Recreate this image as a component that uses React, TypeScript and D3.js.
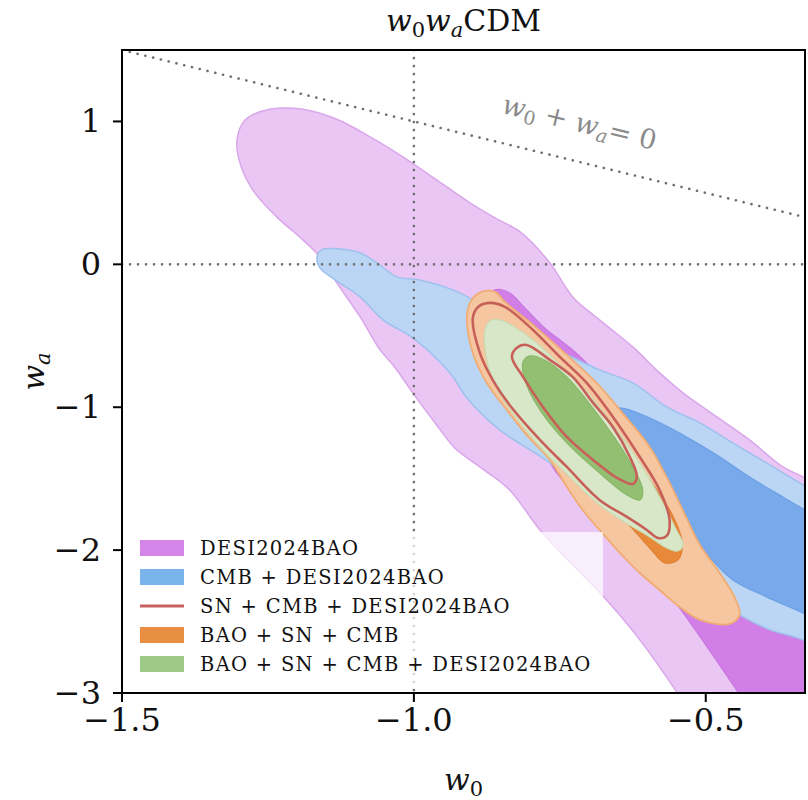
import React from 'react';
import * as d3 from 'd3';

type P = [number, number];

// ---- contour data (w0, wa) ----
const desiOuter: P[] = [
  [-1.303, 0.871], [-1.289, 1.010], [-1.247, 1.085], [-1.190, 1.085], [-1.132, 1.015],
  [-1.075, 0.892], [-1.019, 0.752], [-0.961, 0.591], [-0.904, 0.430], [-0.861, 0.325],
  [-0.818, 0.227], [-0.767, 0.010], [-0.728, -0.228], [-0.682, -0.389], [-0.625, -0.578],
  [-0.579, -0.760], [-0.539, -0.900], [-0.481, -1.068], [-0.425, -1.229], [-0.368, -1.418],
  [-0.330, -1.495], [-0.253, -1.684], [-0.219, -3.748], [-0.476, -3.468],
  [-0.550, -2.992], [-0.613, -2.628], [-0.678, -2.313], [-0.733, -2.083], [-0.784, -1.859],
  [-0.836, -1.579], [-0.887, -1.418], [-0.930, -1.285], [-0.961, -1.124], [-1.002, -0.900],
  [-1.033, -0.718], [-1.058, -0.599], [-1.092, -0.368], [-1.132, -0.130], [-1.161, 0.052],
  [-1.190, 0.171], [-1.235, 0.332], [-1.276, 0.521], [-1.298, 0.710],
];
const desiInner: P[] = [
  [-0.873, -0.249], [-0.861, -0.179], [-0.836, -0.200], [-0.810, -0.305], [-0.776, -0.445],
  [-0.724, -0.613], [-0.647, -0.914], [-0.510, -1.264], [-0.330, -1.614], [-0.236, -1.824],
  [-0.219, -3.748], [-0.400, -3.258], [-0.445, -2.992], [-0.500, -2.663], [-0.555, -2.348],
  [-0.610, -2.069], [-0.664, -1.824], [-0.707, -1.649], [-0.750, -1.488], [-0.784, -1.264],
  [-0.822, -0.949], [-0.853, -0.599], [-0.870, -0.389],
];
const cmbDesiOuter: P[] = [
  [-1.166, 0.052], [-1.158, 0.101], [-1.127, 0.108], [-1.092, 0.080], [-1.063, 0.010],
  [-1.029, -0.088], [-0.990, -0.109], [-0.933, -0.179], [-0.899, -0.249], [-0.853, -0.375],
  [-0.801, -0.515], [-0.755, -0.599], [-0.682, -0.739], [-0.625, -0.830], [-0.567, -0.998],
  [-0.510, -1.110], [-0.454, -1.250], [-0.396, -1.390], [-0.330, -1.551], [-0.236, -1.754],
  [-0.219, -2.908], [-0.334, -2.628], [-0.390, -2.558], [-0.442, -2.453], [-0.510, -2.265],
  [-0.596, -1.985], [-0.682, -1.684], [-0.767, -1.390], [-0.853, -1.159], [-0.909, -0.935],
  [-0.938, -0.760], [-1.002, -0.515], [-1.053, -0.389], [-1.092, -0.228], [-1.135, -0.109],
  [-1.161, -0.025],
];
const cmbDesiInner: P[] = [
  [-0.682, -1.089], [-0.652, -1.005], [-0.596, -1.075], [-0.539, -1.194], [-0.481, -1.334],
  [-0.425, -1.488], [-0.368, -1.628], [-0.330, -1.719], [-0.236, -1.929], [-0.236, -2.628],
  [-0.334, -2.439], [-0.396, -2.327], [-0.454, -2.208], [-0.510, -1.978], [-0.579, -1.719],
  [-0.630, -1.439],
];
const baoSnCmbOuter: P[] = [
  [-0.909, -0.354], [-0.901, -0.249], [-0.884, -0.193], [-0.861, -0.193], [-0.844, -0.263],
  [-0.796, -0.424], [-0.738, -0.634], [-0.687, -0.830], [-0.637, -1.068], [-0.596, -1.278],
  [-0.562, -1.530], [-0.533, -1.775], [-0.510, -1.964], [-0.476, -2.160], [-0.450, -2.334],
  [-0.442, -2.453], [-0.459, -2.516], [-0.510, -2.488], [-0.545, -2.397], [-0.579, -2.279],
  [-0.613, -2.160], [-0.647, -2.020], [-0.682, -1.859], [-0.711, -1.719], [-0.738, -1.558],
  [-0.767, -1.369], [-0.807, -1.194], [-0.841, -1.019], [-0.875, -0.830], [-0.899, -0.620],
];
const baoSnCmbInner: P[] = [
  [-0.853, -0.459], [-0.784, -0.669], [-0.682, -1.089], [-0.596, -1.509], [-0.553, -1.789],
  [-0.540, -1.964], [-0.548, -2.070], [-0.570, -2.090], [-0.596, -1.985], [-0.647, -1.754],
  [-0.733, -1.439], [-0.818, -1.019], [-0.861, -0.669],
];
const allOuter: P[] = [
  [-0.878, -0.459], [-0.870, -0.396], [-0.853, -0.389], [-0.796, -0.529], [-0.750, -0.704],
  [-0.704, -0.893], [-0.659, -1.124], [-0.613, -1.390], [-0.579, -1.628], [-0.553, -1.838],
  [-0.539, -1.964], [-0.548, -2.006], [-0.570, -1.978], [-0.596, -1.908], [-0.639, -1.803],
  [-0.682, -1.684], [-0.738, -1.467], [-0.784, -1.278], [-0.832, -1.033], [-0.858, -0.865],
  [-0.875, -0.669],
];
const allInner: P[] = [
  [-0.813, -0.683], [-0.801, -0.641], [-0.776, -0.669], [-0.738, -0.788], [-0.682, -1.068],
  [-0.635, -1.348], [-0.608, -1.579], [-0.613, -1.649], [-0.635, -1.614], [-0.682, -1.460],
  [-0.738, -1.250], [-0.784, -1.019], [-0.810, -0.809],
];
const snCmbDesiOuter: P[] = [
  [-0.899, -0.375], [-0.890, -0.298], [-0.870, -0.270], [-0.844, -0.298], [-0.796, -0.459],
  [-0.750, -0.648], [-0.704, -0.830], [-0.659, -1.068], [-0.613, -1.348], [-0.579, -1.579],
  [-0.562, -1.789], [-0.567, -1.901], [-0.582, -1.915], [-0.601, -1.859], [-0.635, -1.768],
  [-0.682, -1.649], [-0.738, -1.418], [-0.784, -1.229], [-0.836, -0.984], [-0.865, -0.809],
  [-0.887, -0.620],
];
const snCmbDesiInner: P[] = [
  [-0.832, -0.648], [-0.824, -0.585], [-0.807, -0.564], [-0.767, -0.669], [-0.728, -0.788],
  [-0.693, -0.970], [-0.659, -1.138], [-0.630, -1.348], [-0.618, -1.488], [-0.625, -1.537],
  [-0.652, -1.495], [-0.693, -1.369], [-0.738, -1.208], [-0.779, -0.998], [-0.813, -0.788],
];

const legendLabels = [
  'DESI2024BAO',
  'CMB + DESI2024BAO',
  'SN + CMB + DESI2024BAO',
  'BAO + SN + CMB',
  'BAO + SN + CMB + DESI2024BAO',
];
const legendColors = ['#d27ee8', '#72b0ec', '#c86060', '#e8893a', '#98c680'];
const legendKinds = ['fill', 'fill', 'line', 'fill', 'fill'];

const xTicks = [-1.5, -1.0, -0.5];
const xTickLabels = ['\u22121.5', '\u22121.0', '\u22120.5'];
const yTicks = [1, 0, -1, -2, -3];
const yTickLabels = ['1', '0', '\u22121', '\u22122', '\u22123'];

const xDomain: [number, number] = [-1.5, -0.33];
const yDomain: [number, number] = [-3, 1.5];

export default function App() {
  const L = 122, R = 805, T = 50, B = 693;
  const x = d3.scaleLinear().domain(xDomain).range([L, R]);
  const y = d3.scaleLinear().domain(yDomain).range([B, T]);
  const path = d3
    .line<P>()
    .x((d) => x(d[0]))
    .y((d) => y(d[1]))
    .curve(d3.curveCatmullRomClosed.alpha(0.5));

  const layers = [
    { d: desiOuter, fill: '#eac6f4', stroke: '#d9a6ea', sw: 1.5 },
    { d: desiInner, fill: '#d17fe7', stroke: '#c875e0', sw: 1.2 },
    { d: cmbDesiOuter, fill: '#bbd6f5', stroke: '#9ec0ec', sw: 1.5 },
    { d: cmbDesiInner, fill: '#77a9eb', stroke: '#6c9fe4', sw: 1.2 },
    { d: baoSnCmbOuter, fill: '#f6c6a0', stroke: '#f0ac72', sw: 1.8 },
    { d: baoSnCmbInner, fill: '#e8893a', stroke: '#e07f30', sw: 1.2 },
    { d: allOuter, fill: '#d8e7c8', stroke: '#c8dcb4', sw: 1.2 },
    { d: allInner, fill: '#93bf72', stroke: '#89b768', sw: 1.2 },
  ];
  const lines = [snCmbDesiOuter, snCmbDesiInner];

  const serif = 'DejaVu Serif';
  const dotted = { stroke: '#6e6e6e', strokeWidth: 2.6, strokeDasharray: '0.1,7.9', strokeLinecap: 'round' as const, fill: 'none' };
  const angle = (Math.atan2(y(0) - y(1), x(1 - 1.5) - x(-1.5)) * 180) / Math.PI;
  const legendRows = [548, 577, 606, 635, 664];

  return (
    <svg width={808} height={800} style={{ position: 'absolute', left: 0, top: 0, background: '#fff' }} fontFamily={serif}>
      <defs>
        <clipPath id="plotClip">
          <rect x={L} y={T} width={R - L} height={B - T} />
        </clipPath>
      </defs>
      <g clipPath="url(#plotClip)">
        {layers.map((l, i) => (
          <path key={i} d={path(l.d) || ''} fill={l.fill} stroke={l.stroke} strokeWidth={l.sw} />
        ))}
        {lines.map((l, i) => (
          <path key={'r' + i} d={path(l) || ''} fill="none" stroke="#c8605a" strokeWidth={2.6} />
        ))}
        <line x1={x(-1)} x2={x(-1)} y1={T} y2={B} {...dotted} />
        <line x1={L} x2={R} y1={y(0)} y2={y(0)} {...dotted} />
        <line x1={x(-1.5)} y1={y(1.5)} x2={x(-0.33)} y2={y(0.33)} {...dotted} />
        <text
          transform={`translate(${x(-0.72)},${y(0.93)}) rotate(${angle})`}
          textAnchor="middle"
          fill="#8a8a8a"
          fontSize={27}
        >
          <tspan fontStyle="italic">w</tspan>
          <tspan fontSize={19} dy={5}>0</tspan>
          <tspan dy={-5}> + </tspan>
          <tspan fontStyle="italic">w</tspan>
          <tspan fontStyle="italic" fontSize={19} dy={5}>a</tspan>
          <tspan dy={-5}>= 0</tspan>
        </text>
        {/* legend */}
        <rect x={130} y={532} width={473} height={152} fill="#fff" opacity={0.72} />
        {legendLabels.map((lab, i) => (
          <g key={lab}>
            {legendKinds[i] === 'fill' ? (
              <rect x={140} y={legendRows[i] - 8} width={44} height={16} fill={legendColors[i]} opacity={0.95} />
            ) : (
              <line x1={140} x2={184} y1={legendRows[i]} y2={legendRows[i]} stroke={legendColors[i]} strokeWidth={3} />
            )}
            <text x={200} y={legendRows[i] + 7} fontSize={19.5} letterSpacing={1.3} fill="#111">
              {lab}
            </text>
          </g>
        ))}
      </g>
      {/* frame */}
      <rect x={L} y={T} width={R - L} height={B - T} fill="none" stroke="#000" strokeWidth={2} />
      {xTicks.map((t, i) => (
        <g key={'x' + i}>
          <line x1={x(t)} x2={x(t)} y1={B} y2={B + 9} stroke="#000" strokeWidth={2} />
          <text x={x(t)} y={B + 38} textAnchor="middle" fontSize={32} fill="#111">
            {xTickLabels[i]}
          </text>
        </g>
      ))}
      {yTicks.map((t, i) => (
        <g key={'y' + i}>
          <line x1={L - 9} x2={L} y1={y(t)} y2={y(t)} stroke="#000" strokeWidth={2} />
          <text x={L - 21} y={y(t) + 11} textAnchor="end" fontSize={32} fill="#111">
            {yTickLabels[i]}
          </text>
        </g>
      ))}
      {/* title */}
      <text x={(L + R) / 2} y={31} textAnchor="middle" fontSize={30} fill="#111">
        <tspan fontStyle="italic">w</tspan>
        <tspan fontSize={21} dy={6}>0</tspan>
        <tspan fontStyle="italic" dy={-6}>w</tspan>
        <tspan fontStyle="italic" fontSize={21} dy={6}>a</tspan>
        <tspan dy={-6}>CDM</tspan>
      </text>
      {/* axis labels */}
      <text x={(L + R) / 2} y={790} textAnchor="middle" fontSize={30} fill="#111">
        <tspan fontStyle="italic">w</tspan>
        <tspan fontSize={21} dy={6}>0</tspan>
      </text>
      <text transform={`translate(44,${(T + B) / 2}) rotate(-90)`} textAnchor="middle" fontSize={30} fill="#111">
        <tspan fontStyle="italic">w</tspan>
        <tspan fontStyle="italic" fontSize={21} dy={6}>a</tspan>
      </text>
    </svg>
  );
}
